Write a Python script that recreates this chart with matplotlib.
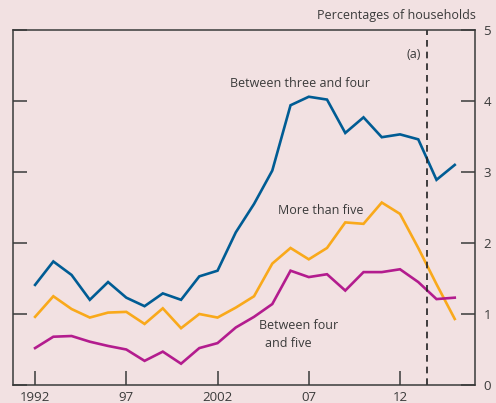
import numpy as np
import matplotlib
matplotlib.use('Agg')
import matplotlib.pyplot as plt

### Data (percentages of households)
years = list(range(1992, 2016))
three_to_four = [1.41, 1.74, 1.55, 1.20, 1.45, 1.23, 1.11, 1.29, 1.20, 1.53, 1.61, 2.15,
                 2.55, 3.02, 3.94, 4.06, 4.02, 3.55, 3.77, 3.49, 3.53, 3.46, 2.89, 3.10]
more_than_five = [0.96, 1.25, 1.07, 0.95, 1.02, 1.03, 0.86, 1.08, 0.80, 1.00, 0.95, 1.09,
                  1.25, 1.71, 1.93, 1.77, 1.93, 2.29, 2.27, 2.57, 2.41, 1.93, 1.42, 0.93]
four_to_five = [0.52, 0.68, 0.69, 0.61, 0.55, 0.50, 0.34, 0.47, 0.30, 0.52, 0.59, 0.81,
                0.96, 1.14, 1.61, 1.52, 1.56, 1.33, 1.59, 1.59, 1.63, 1.45, 1.21, 1.23]
xtick_pos = [1992, 1997, 2002, 2007, 2012]
xtick_lab = ['1992', '97', '2002', '07', '12']
projection_start = 2013.5

bg = '#F2E1E2'
ink = '#3a3a3a'
plt.rcParams['font.family'] = ['Open Sans', 'DejaVu Sans']
plt.rcParams['font.size'] = 9

fig = plt.figure(figsize=(4.96, 4.03), dpi=100, facecolor=bg)
ax = fig.add_axes([13/496, 1-385/403, 462/496, 355/403], facecolor=bg)

ax.plot(years, three_to_four, color='#005C94', lw=1.9, solid_joinstyle='miter')
ax.plot(years, more_than_five, color='#F9A91B', lw=1.9, solid_joinstyle='miter')
ax.plot(years, four_to_five, color='#B31C8E', lw=1.9, solid_joinstyle='miter')
ax.axvline(projection_start, color='#222222', lw=1.2, ls=(0, (4, 3)))

ax.set_xlim(1990.79, 2016.11)
ax.set_ylim(0, 5)
ax.set_xticks(xtick_pos)
ax.set_xticklabels(xtick_lab, fontsize=9.5)
ax.set_yticks(range(0, 6))

for s in ax.spines.values():
	s.set_color(ink)
	s.set_linewidth(1.1)

ax.tick_params(axis='x', direction='in', length=10, width=1.1, color=ink, labelcolor=ink, pad=4)
ax.tick_params(axis='y', direction='in', length=10, width=1.1, color=ink, labelcolor=ink,
               left=True, right=True, labelleft=False, labelright=True, pad=6, labelsize=9.5)

# Labels
ax.text(2006.5, 4.24, 'Between three and four', ha='center', va='center', color=ink)
ax.text(2007.67, 2.46, 'More than five', ha='center', va='center', color=ink)
ax.text(2006.47, 0.845, 'Between four', ha='center', va='center', color=ink)
ax.text(2005.9, 0.59, 'and five', ha='center', va='center', color=ink)
ax.text(2012.77, 4.65, '(a)', ha='center', va='center', color=ink)
fig.text(476/496, 1-16/403, 'Percentages of households', ha='right', va='center', color=ink)

plt.savefig('out.png', dpi=100, facecolor=bg)
